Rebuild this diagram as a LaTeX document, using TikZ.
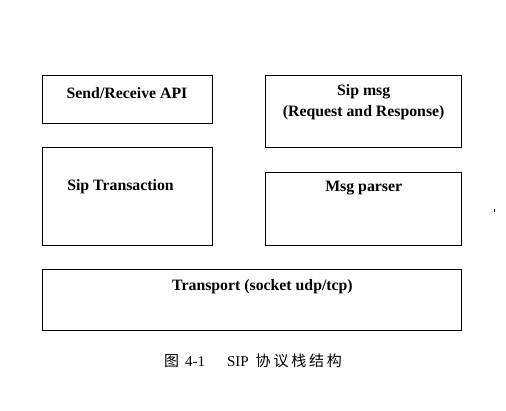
\documentclass[tikz,border=0pt]{standalone}
\usepackage{fontspec}
\setmainfont{Liberation Serif}
\newfontfamily\cjk{Noto Sans CJK SC}
\newcommand{\cjkgap}{\hspace{2.8bp}}
\begin{document}
\begin{tikzpicture}[x=1bp,y=-1bp,
  layerbox/.style={draw=black,line width=1bp},
  lbl/.style={font=\fontsize{15.8bp}{21bp}\selectfont\bfseries,inner sep=0pt,align=center},
  captext/.style={font=\fontsize{15bp}{17bp}\selectfont,inner sep=0pt}]
\useasboundingbox (0,0) rectangle (506,410);
\draw[layerbox] (42.7,75) rectangle (212,123);
\draw[layerbox] (265.7,75) rectangle (461.7,147);
\draw[layerbox] (42.7,147.7) rectangle (212,245);
\draw[layerbox] (265.7,172) rectangle (461.7,245);
\draw[layerbox] (42.7,269) rectangle (461.7,330);
\node[lbl] (api) at (127,93) {Send/Receive API};
\node[lbl] (msg) at (363.7,102.5) {Sip msg\\(Request and Response)};
\node[lbl] (trans) at (120.5,186.5) {Sip Transaction};
\node[lbl] (parser) at (363.7,188) {Msg parser};
\node[lbl] (transport) at (262.5,286.5) {Transport (socket udp/tcp)};
\node[captext] (caption) at (253,361) {{\cjk 图}\hspace{6bp}4-1\hspace{22bp}SIP\hspace{7bp}{\cjk 协\cjkgap 议\cjkgap 栈\cjkgap 结\cjkgap 构}};
\draw[line width=0.8bp] (494,208.5) -- (494,212);
\end{tikzpicture}
\end{document}
